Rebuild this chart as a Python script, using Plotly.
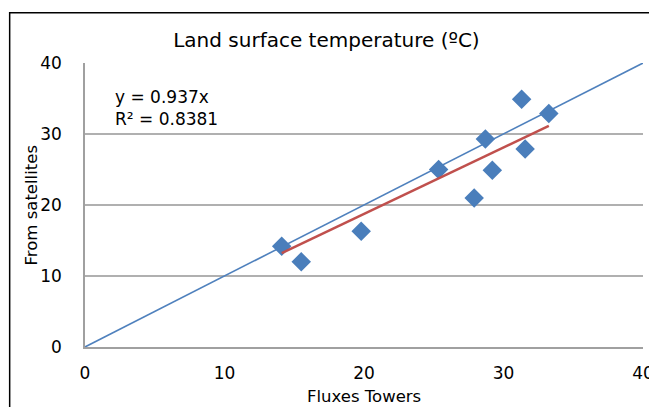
import plotly.graph_objects as go

# Data
flux_towers = [14.1, 15.5, 19.8, 25.35, 27.9, 28.7, 29.2, 31.3, 31.55, 33.25]
satellites = [14.2, 12.0, 16.3, 25.0, 21.0, 29.3, 24.9, 34.9, 27.9, 32.9]
fit_slope = 0.937
r_squared = 0.8381
one_to_one = [0, 40]
x_ticks = [0, 10, 20, 30, 40]
y_ticks = [0, 10, 20, 30, 40]

FONT = "DejaVu Sans"
fig = go.Figure()

# 1:1 line
fig.add_trace(go.Scatter(x=one_to_one, y=one_to_one, mode="lines",
                         line=dict(color="#4f81bd", width=1.6),
                         hoverinfo="skip", showlegend=False))

# scatter points
fig.add_trace(go.Scatter(x=flux_towers, y=satellites, mode="markers",
                         marker=dict(symbol="diamond", size=15, color="#4a7ebb",
                                     line=dict(width=0)),
                         showlegend=False))

# zero-intercept trend line over data range
xmin, xmax = min(flux_towers), max(flux_towers)
fig.add_trace(go.Scatter(x=[xmin, xmax], y=[fit_slope * xmin, fit_slope * xmax],
                         mode="lines", line=dict(color="#c0504d", width=2.5),
                         hoverinfo="skip", showlegend=False))

fig.add_annotation(x=0.146, y=0.843, xref="paper", yref="paper",
                   xanchor="center", yanchor="middle",
                   text=f"y = {fit_slope}x<br>R² = {r_squared}",
                   showarrow=False, align="left",
                   font=dict(family=FONT, size=17, color="black"))

# axis titles
fig.add_annotation(x=-0.096, y=0.5, xref="paper", yref="paper",
                   xanchor="center", yanchor="middle", textangle=-90,
                   text="From satellites", showarrow=False,
                   font=dict(family=FONT, size=16.5, color="black"))
fig.add_annotation(x=0.5, y=-0.176, xref="paper", yref="paper",
                   xanchor="center", yanchor="middle",
                   text="Fluxes Towers", showarrow=False,
                   font=dict(family=FONT, size=16.5, color="black"))

# chart frame (left and top edges visible, rest runs off canvas)
fig.add_shape(type="rect", xref="paper", yref="paper",
              x0=-0.135, x1=1.2, y0=-0.4, y1=1.177,
              line=dict(color="black", width=1.5), layer="above")

fig.update_layout(
    width=649, height=407,
    margin=dict(l=85, r=6, t=63, b=60),
    paper_bgcolor="white", plot_bgcolor="white",
    font=dict(family=FONT, size=17, color="black"),
    title=dict(text="Land surface temperature (ºC)", x=0.503, xref="container",
               xanchor="center",
               y=0.902, yref="container", yanchor="middle",
               font=dict(family=FONT, size=20, color="black")),
)
fig.update_xaxes(range=[0, 40], tickvals=x_ticks, showgrid=False,
                 showline=True, linecolor="#a0a0a0", linewidth=1.5,
                 zeroline=False, ticks="", ticklabelstandoff=10,
                 ticklabeloverflow="allow", automargin=False,
                 tickfont=dict(family=FONT, size=17))
fig.update_yaxes(range=[0, 40], tickvals=y_ticks, showgrid=True,
                 gridcolor="#b0b0b0", gridwidth=1.5,
                 showline=True, linecolor="#a0a0a0", linewidth=1.5,
                 zeroline=False, ticks="", ticklabelstandoff=18,
                 automargin=False,
                 tickfont=dict(family=FONT, size=17))

fig.write_html("out.html")
